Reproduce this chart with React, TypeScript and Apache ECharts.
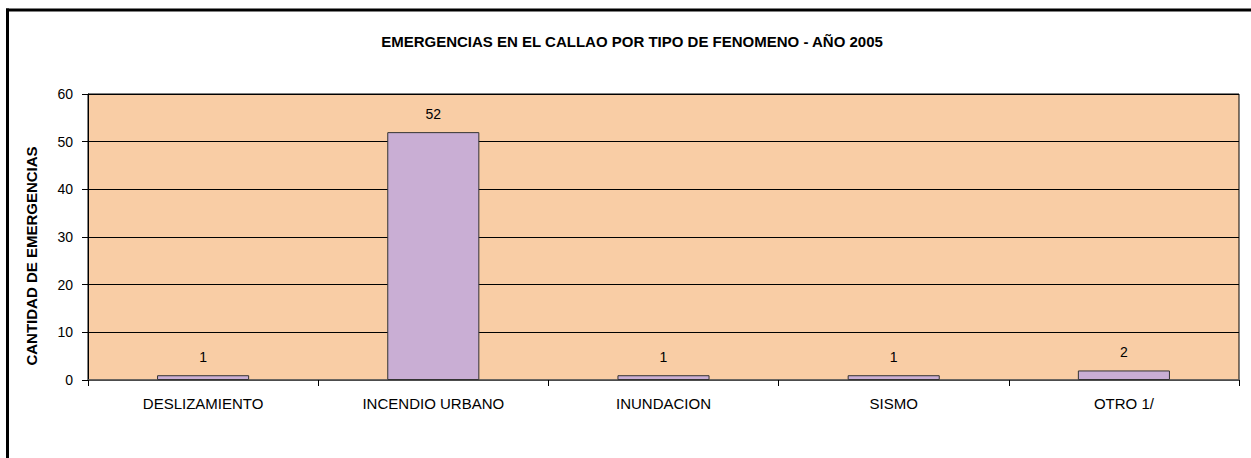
import React, { useEffect, useRef } from "react";
import * as echarts from "echarts";

const categories = ["DESLIZAMIENTO", "INCENDIO URBANO", "INUNDACION", "SISMO", "OTRO 1/"];
const values = [1, 52, 1, 1, 2];
const yTicks = [0, 10, 20, 30, 40, 50, 60];
const titleText = "EMERGENCIAS EN EL CALLAO POR TIPO DE FENOMENO - AÑO 2005";
const yAxisName = "CANTIDAD DE EMERGENCIAS";

const FONT = "Liberation Sans, Arial, sans-serif";

export default function App() {
  const ref = useRef<HTMLDivElement>(null);
  useEffect(() => {
    const chart = echarts.init(ref.current!, null, { renderer: "svg" });
    chart.setOption({
      animation: false,
      backgroundColor: "#ffffff",
      title: {
        text: titleText,
        left: 627,
        top: 29,
        textAlign: "center",
        textStyle: { fontFamily: FONT, fontSize: 15, fontWeight: "bold", color: "#000" },
      },
      grid: {
        left: 88,
        top: 94,
        width: 1151,
        height: 286,
        show: true,
        backgroundColor: "#F9CDA5",
        borderColor: "#000",
        borderWidth: 1,
        containLabel: false,
      },
      xAxis: {
        type: "category",
        data: categories,
        axisLine: { lineStyle: { color: "#666", width: 1.5 } },
        axisTick: { show: true, length: 6, lineStyle: { color: "#000" } },
        axisLabel: { fontFamily: FONT, fontSize: 15, color: "#000", margin: 16 },
      },
      yAxis: {
        type: "value",
        min: yTicks[0],
        max: yTicks[yTicks.length - 1],
        interval: 10,
        axisLine: { show: true, lineStyle: { color: "#000" } },
        axisTick: { show: true, length: 6, lineStyle: { color: "#000" } },
        axisLabel: { fontFamily: FONT, fontSize: 14, color: "#000", margin: 15 },
        splitLine: { show: true, lineStyle: { color: "#000", width: 1 } },
      },
      series: [
        {
          type: "bar",
          data: values,
          barWidth: "40%",
          itemStyle: { color: "#C9AED4", borderColor: "#333", borderWidth: 1 },
          label: {
            show: true,
            position: "top",
            distance: 11,
            fontFamily: FONT,
            fontSize: 14,
            color: "#000",
          },
        },
      ],
      graphic: [
        { type: "line", shape: { x1: 7.5, y1: 8.5, x2: 7.5, y2: 458 }, style: { stroke: "#000", lineWidth: 3 } },
        { type: "line", shape: { x1: 6, y1: 10, x2: 1251, y2: 10 }, style: { stroke: "#000", lineWidth: 3 } },
        {
          type: "text",
          x: 31,
          y: 256,
          rotation: Math.PI / 2,
          style: {
            text: yAxisName,
            font: "bold 15px " + FONT,
            fill: "#000",
            align: "center",
            verticalAlign: "middle",
          },
        },
      ],
    });
    return () => chart.dispose();
  }, []);
  return (
    <div
      ref={ref}
      style={{ position: "fixed", left: 0, top: 0, width: 1251, height: 458 }}
    />
  );
}
